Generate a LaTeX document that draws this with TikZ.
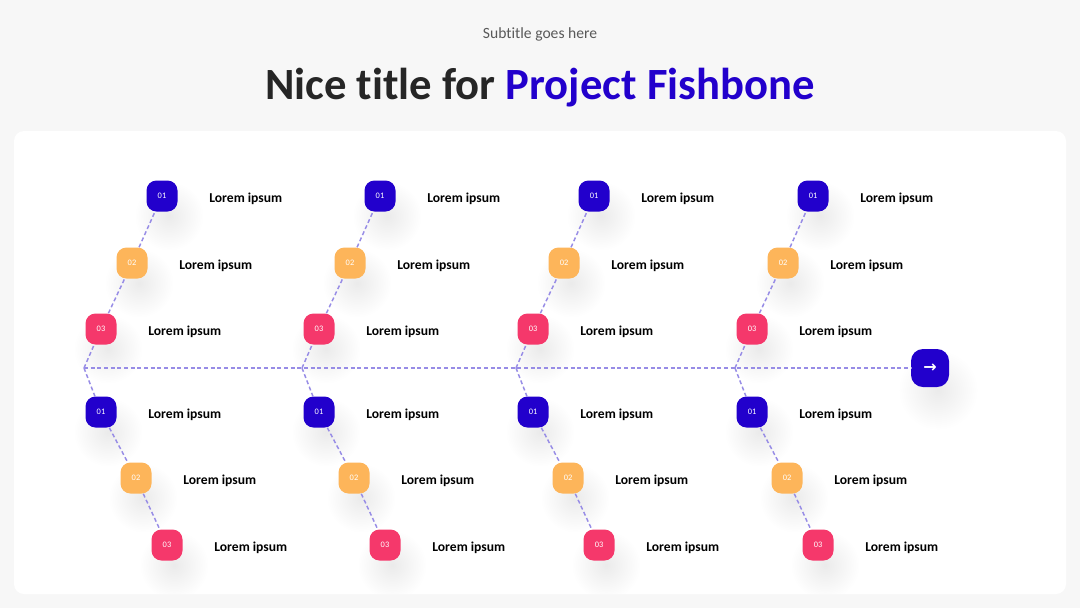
\documentclass[tikz,border=0pt]{standalone}
\usepackage{fontspec}
\setmainfont{Carlito}[Ligatures=NoCommon]
\newfontfamily\symfont{DejaVu Sans}
\usetikzlibrary{positioning}
\usetikzlibrary{calc}
\usetikzlibrary{backgrounds}
\definecolor{bgc}{HTML}{F7F7F7}
\definecolor{ink}{HTML}{262626}
\definecolor{subc}{HTML}{595959}
\definecolor{bluec}{HTML}{2200CC}
\definecolor{orangec}{HTML}{FDB55A}
\definecolor{pinkc}{HTML}{F5386B}
\definecolor{bonec}{HTML}{978CE6}
\tikzset{num/.style={rounded corners=7.5pt, minimum size=23.25pt, inner sep=0pt, text=white,
    font=\fontsize{6.3}{7}\selectfont, on grid}}
\tikzset{lbl/.style={font=\bfseries\fontsize{10.2}{12}\selectfont, text=black, inner sep=0pt, yshift=-2pt}}
\tikzset{bone/.style={bonec, dash pattern=on 3pt off 2pt, line width=1.1pt}}
\tikzset{shadow/.style={inner color=black!8, outer color=white}}

\begin{document}
\begin{tikzpicture}[x=0.75pt, y=-0.75pt]
        \begin{scope}[on background layer]
            \fill[bgc] (0,0) rectangle (1080,608);
            \fill[white, rounded corners=7.5pt] (14,131) rectangle (1066,594);
        \end{scope}
        \useasboundingbox (0,0) rectangle (1080,608);

        \node[anchor=base, font=\fontsize{11.7}{14}\selectfont, text=subc] (sub) at (540,38) {Subtitle goes here};
        \node[anchor=base, font=\bfseries\fontsize{33.5}{40}\selectfont, text=ink] (title) at (540,99)
            {Nice title for \textcolor{bluec}{Project Fishbone}};

        \node[num, fill=bluec, minimum size=28.5pt, rounded corners=9pt,
            font=\symfont\bfseries\fontsize{12}{13}\selectfont] (arr) at (930,368) {→};
        \begin{scope}[on background layer]
            \shade[shadow] ($(arr)+(8,22)$) circle (30pt);
        \end{scope}

        \foreach \i/\x in {1/84, 2/302, 3/516, 4/735} {
            \coordinate (j\i) at (\x,368);

            % upper bone
            \node[num, fill=pinkc] (t3-\i) at (\x+17,329) {03};
            \node[num, fill=orangec, above right=49.5pt and 23.25pt of t3-\i] (t2-\i) {02};
            \node[num, fill=bluec, above right=50.25pt and 22.5pt of t2-\i] (t1-\i) {01};

            % lower bone
            \node[num, fill=bluec] (b1-\i) at (\x+17,412) {01};
            \node[num, fill=orangec, below right=49.5pt and 26.25pt of b1-\i] (b2-\i) {02};
            \node[num, fill=pinkc, below right=50.25pt and 23.25pt of b2-\i] (b3-\i) {03};

            \foreach \n in {t1,t2,t3,b1,b2,b3} {
                \node[lbl, right=23.5pt of \n-\i] (l\n-\i) {Lorem ipsum};
                \begin{scope}[on background layer]
                    \clip[rounded corners=7.5pt] (14,131) rectangle (1066,594);
                    \shade[shadow] ($(\n-\i)+(7,20)$) circle (26pt);
                \end{scope}
            }

            \draw[bone] (j\i) -- (t3-\i) -- (t2-\i) -- (t1-\i);
            \draw[bone] (j\i) -- (b1-\i) -- (b2-\i) -- (b3-\i);
        }

        \draw[bone] (j1) -- (arr);
    \end{tikzpicture}
\end{document}
